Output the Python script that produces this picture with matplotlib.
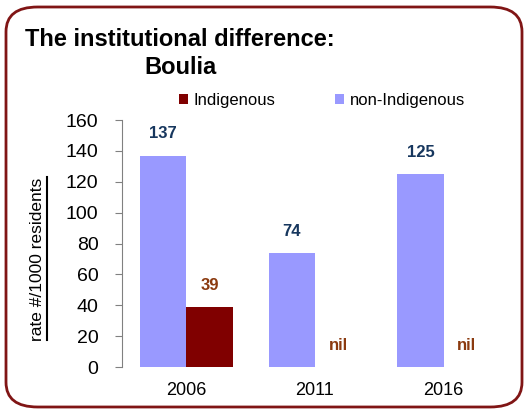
import numpy as np
import matplotlib.pyplot as plt
from matplotlib.patches import FancyBboxPatch
from matplotlib.lines import Line2D

plt.rcParams['font.family'] = ['Liberation Sans', 'DejaVu Sans']

years = ['2006', '2011', '2016']
non_indig = [137, 74, 125]
indig = [39, 0, 0]
indig_labels = ['39', 'nil', 'nil']
non_indig_labels = ['137', '74', '125']

fig = plt.figure(figsize=(5.28, 4.12), dpi=100)
ax = fig.add_axes([122 / 528, 45 / 412, 386 / 528, 247 / 412])

x = np.arange(len(years))
w = 0.36
b_non = ax.bar(x - w / 2, non_indig, w, color='#9999FF', label='non-Indigenous')
b_ind = ax.bar(x + w / 2, indig, w, color='#800000', label='Indigenous')

for xi, v, s in zip(x, non_indig, non_indig_labels):
    ax.text(xi - w / 2, v + 14, s, ha='center', va='center', fontsize=12,
            fontweight='bold', color='#17375E')
for xi, v, s in zip(x, indig, indig_labels):
    y = v + 14 if v > 0 else 14
    ax.text(xi + w / 2, y, s, ha='center', va='center',
            fontsize=12, fontweight='bold', color='#8B3A0F')

ax.set_xlim(-0.5, 2.5)
ax.set_ylim(0, 160)
ax.set_yticks(range(0, 161, 20))
ax.set_xticks(x)
ax.set_xticklabels(years)
ax.tick_params(axis='y', labelsize=14, length=5, color='#808080', pad=12)
ax.tick_params(axis='x', labelsize=13, length=0, pad=11)
for s in ['top', 'right', 'bottom']:
    ax.spines[s].set_visible(False)
ax.spines['left'].set_color('#808080')

# y label with an underline (drawn as a line on its right side)
fig.text(38 / 528, 1 - 259 / 412, 'rate #/1000 residents', fontsize=12.5,
         rotation=90, ha='center', va='center')
fig.add_artist(Line2D([47 / 528, 47 / 528], [72 / 412, 235 / 412],
                      color='black', lw=1.5))

handles = [b_ind, b_non]
fig.legend(handles, ['Indigenous', 'non-Indigenous'], loc='center',
           bbox_to_anchor=(322 / 528, 1 - 100 / 412), ncol=2, frameon=False,
           fontsize=12, handlelength=0.55, handleheight=0.55, handletextpad=0.3,
           columnspacing=3.6)

fig.text(25 / 528, 1 - 40 / 412, 'The institutional difference:', fontsize=17,
         fontweight='bold', va='center', ha='left')
fig.text(180 / 528, 1 - 68 / 412, 'Boulia', fontsize=17, fontweight='bold',
         va='center', ha='center')

fig.add_artist(FancyBboxPatch((6 / 528, 5 / 412), 516 / 528, 400 / 412,
                              boxstyle='round,pad=0,rounding_size=0.06',
                              transform=fig.transFigure, fill=False,
                              edgecolor='#801515', lw=2))

fig.savefig('out.png', dpi=100)
